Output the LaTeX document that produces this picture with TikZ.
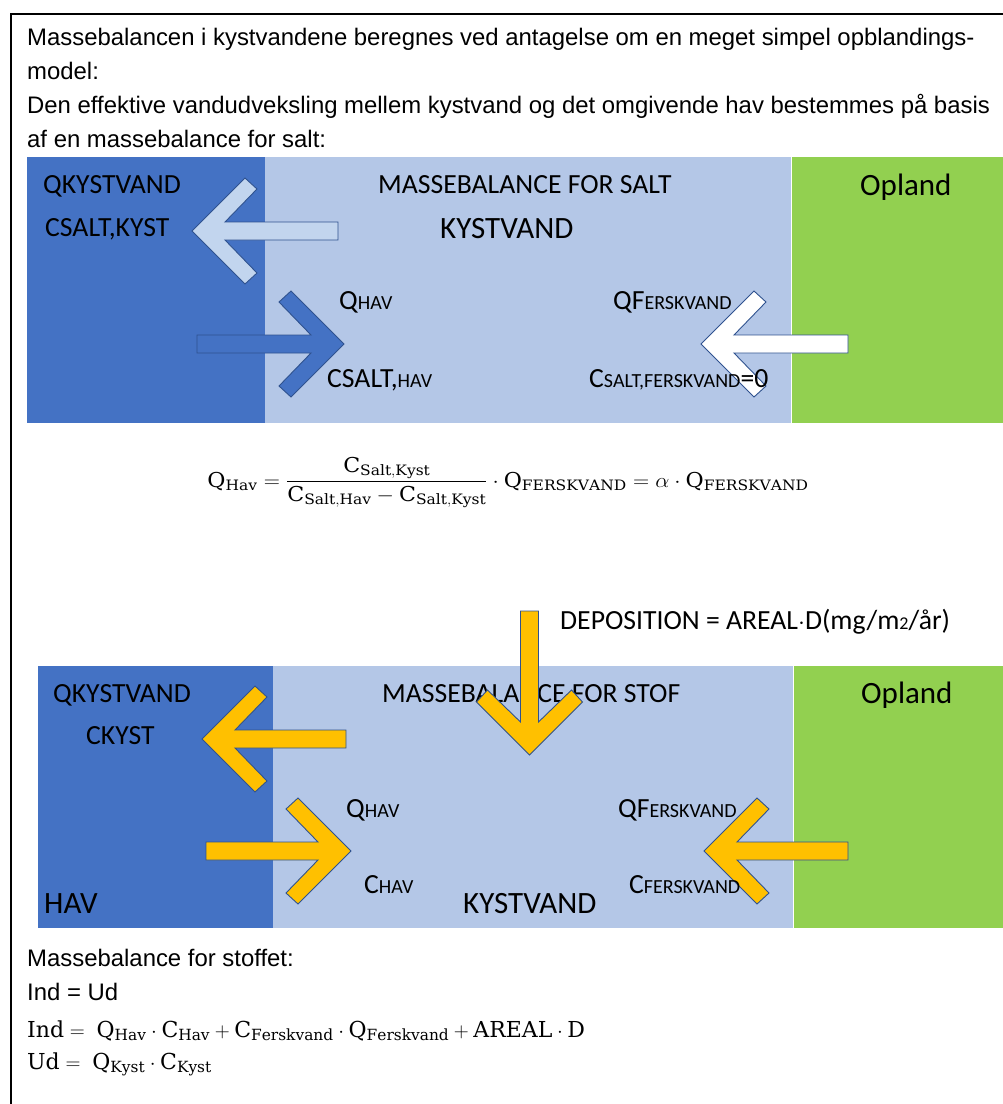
\documentclass[tikz,border=0pt]{standalone}
\usepackage{amsmath}
\usepackage{graphicx}
\usepackage{fontspec}
\setmainfont{Liberation Sans}
\setmathrm{DejaVu Serif}
\newfontfamily\calib{Carlito}
\definecolor{darkblue}{HTML}{4472C4}
\definecolor{lightblue}{HTML}{B4C7E7}
\definecolor{paleblue}{HTML}{C2D5EE}
\definecolor{opgreen}{HTML}{92D050}
\definecolor{gold}{HTML}{FFC000}
\definecolor{edge}{HTML}{2F528F}
\newcommand\sm[1]{{\fontsize{20}{20}\selectfont #1}}
\newcommand\chevarrow[4]{\draw[arrowline,fill=#3,shift={#1},rotate=#2] (0,0) -- (53,-53) -- (65,-42) -- (33,-9) -- (#4,-9) -- (#4,9) -- (33,9) -- (65,42) -- (53,53) -- cycle;}
\begin{document}
\begin{tikzpicture}[x=1pt,y=-1pt,
  lab/.style={anchor=base west,inner sep=0pt,font=\calib\fontsize{27.7}{30}\selectfont},
  big/.style={anchor=base west,inner sep=0pt,font=\calib\fontsize{31}{34}\selectfont},
  para/.style={anchor=base west,inner sep=0pt,font=\fontsize{23.9}{26}\selectfont},
  eqn/.style={anchor=base west,inner sep=0pt,font=\fontsize{22}{24}\selectfont},
  arrowline/.style={draw=edge,line width=0.9pt,line join=miter}]
\useasboundingbox (0,0) rectangle (1003,1104);
\fill[white] (0,0) rectangle (1003,1104);
% frame
\draw[line width=2.5pt] (11,1104) -- (11,14) -- (1003,14);
% intro text
\node[para] (p1) at (27,45) {Massebalancen i kystvandene beregnes ved antagelse om en meget simpel opblandings-};
\node[para] (p2) at (27,79) {model:};
\node[para] (p3) at (27,113) {Den effektive vandudveksling mellem kystvand og det omgivende hav bestemmes på basis};
\node[para] (p4) at (27,147) {af en massebalance for salt:};
% top panel
\fill[darkblue] (27,157) rectangle (265,423);
\fill[lightblue] (265,157) rectangle (791,423);
\fill[opgreen] (792,157) rectangle (1003,423);
\chevarrow{(192,231)}{0}{paleblue}{146}
\chevarrow{(344,344)}{180}{darkblue}{147}
\chevarrow{(701,344)}{0}{white}{147}
\node[lab] (tq) at (43,193) {QKYSTVAND};
\node[lab] (tc) at (45,236) {CSALT,KYST};
\node[lab] (tm) at (378,193) {MASSEBALANCE FOR SALT};
\node[big] (tk) at (440,238) {KYSTVAND};
\node[big] (to) at (860,195) {Opland};
\node[lab] (tqh) at (339,309) {Q\sm{HAV}};
\node[lab] (tch) at (327,387) {CSALT,\sm{HAV}};
\node[lab] (tqf) at (613,309) {QF\sm{ERSKVAND}};
\node[lab] (tcf) at (589,387) {C\sm{SALT,FERSKVAND}=0};
% equation
\node[anchor=base,inner sep=0pt,font=\fontsize{20.5}{24}\selectfont] (eq) at (508,487)
 {\scalebox{1.08}[1]{$\mathrm{Q}_{\mathrm{Hav}} = \dfrac{\mathrm{C}_{\mathrm{Salt,Kyst}}}{\mathrm{C}_{\mathrm{Salt,Hav}}-\mathrm{C}_{\mathrm{Salt,Kyst}}}\cdot \mathrm{Q}_{\mathrm{FERSKVAND}} = \alpha\cdot \mathrm{Q}_{\mathrm{FERSKVAND}}$}};
% deposition label
\node[lab] (dep) at (560,629) {DEPOSITION = AREAL$\cdot$D(mg/m{\fontsize{18}{18}\selectfont 2}/år)};
% bottom panel
\fill[darkblue] (38,666) rectangle (273,928);
\fill[lightblue] (273,666) rectangle (793,928);
\fill[opgreen] (794,666) rectangle (1003,928);
\chevarrow{(202,739)}{0}{gold}{144}
\chevarrow{(351,851)}{180}{gold}{145}
\chevarrow{(704,851)}{0}{gold}{144}
\node[lab] (bq) at (53,702) {QKYSTVAND};
\node[lab] (bc) at (86,744) {CKYST};
\node[lab] (bm) at (382,702) {MASSEBALANCE FOR STOF};
\node[big] (bo) at (861,703) {Opland};
\node[lab] (bqh) at (346,817) {Q\sm{HAV}};
\node[lab] (bch) at (364,893) {C\sm{HAV}};
\node[big] (bh) at (44,913) {HAV};
\node[big] (bk) at (463,913) {KYSTVAND};
\node[lab] (bqf) at (618,817) {QF\sm{ERSKVAND}};
\node[lab] (bcf) at (629,893) {C\sm{FERSKVAND}};
\chevarrow{(529.5,755)}{90}{gold}{144}
% bottom text
\node[para] (s1) at (27,966) {Massebalance for stoffet:};
\node[para] (s2) at (27,1000) {Ind = Ud};
\node[eqn] (s3) at (27,1037)
 {$\mathrm{Ind} = \ \mathrm{Q}_{\mathrm{Hav}}\cdot\mathrm{C}_{\mathrm{Hav}} + \mathrm{C}_{\mathrm{Ferskvand}}\cdot\mathrm{Q}_{\mathrm{Ferskvand}} + \mathrm{AREAL}\cdot\mathrm{D}$};
\node[eqn] (s4) at (27,1069)
 {$\mathrm{Ud} = \ \mathrm{Q}_{\mathrm{Kyst}}\cdot\mathrm{C}_{\mathrm{Kyst}}$};
\end{tikzpicture}
\end{document}
